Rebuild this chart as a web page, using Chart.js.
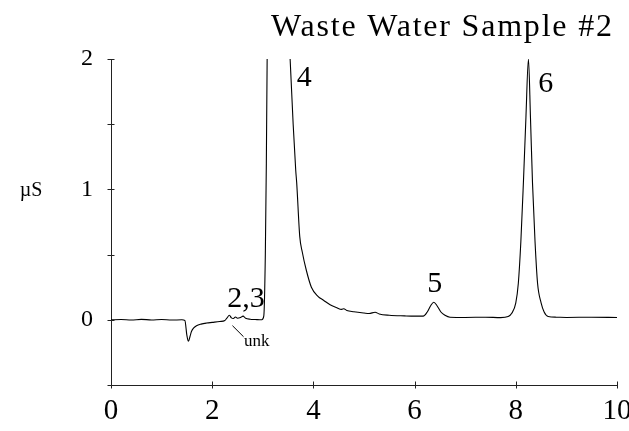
<!DOCTYPE html>
<html>
<head>
<meta charset="utf-8">
<script src="https://cdn.jsdelivr.net/npm/chart.js@4/dist/chart.umd.min.js"></script>
<style>
  html, body { margin: 0; padding: 0; background: #fff; }
  #wrap { width: 629px; height: 431px; position: relative; }
</style>
</head>
<body>
<div id="wrap"><canvas id="chart" width="629" height="431"></canvas></div>
<script>
// Retention time (min) and conductivity (µS) of the chromatogram trace
const times = [
  0.0, 0.2, 0.4, 0.6, 0.8, 1.0, 1.2, 1.4, 1.46, 1.50, 1.53, 1.56, 1.59, 1.64, 1.69,
  1.78, 1.89, 2.0, 2.15, 2.25, 2.29, 2.34, 2.38, 2.42, 2.46, 2.50, 2.56, 2.61, 2.66,
  2.75, 2.85, 2.98, 3.02, 3.05, 3.07, 3.09, 3.3, 3.52, 3.54, 3.60, 3.65, 3.67, 3.73,
  3.78, 3.86, 3.96, 4.09, 4.2, 4.33, 4.45, 4.56, 4.60, 4.66, 4.8, 5.0, 5.1, 5.22,
  5.3, 5.5, 5.8, 6.0, 6.17, 6.25, 6.32, 6.38, 6.44, 6.52, 6.6, 6.7, 7.0, 7.4, 7.7,
  7.85, 7.92, 8.0, 8.05, 8.10, 8.15, 8.20, 8.25, 8.29, 8.33, 8.38, 8.43, 8.5, 8.56,
  8.64, 8.8, 9.0, 9.5, 10.0
];
const conductivity = [
  0.0, 0.002, -0.002, 0.003, -0.001, 0.002, -0.002, 0.0, -0.005, -0.12, -0.165, -0.13, -0.09, -0.06, -0.045,
  -0.033, -0.025, -0.02, -0.013, -0.005, 0.013, 0.035, 0.015, 0.01, 0.022, 0.012, 0.018, 0.028, 0.012,
  0.004, 0.002, 0.0, 0.03, 0.5, 1.2, 2.2, 6.0, 2.2, 2.0, 1.5, 1.15, 1.05, 0.64,
  0.52, 0.38, 0.25, 0.18, 0.15, 0.115, 0.095, 0.08, 0.085, 0.072, 0.062, 0.052, 0.048, 0.058,
  0.045, 0.035, 0.03, 0.028, 0.028, 0.06, 0.11, 0.135, 0.11, 0.06, 0.035, 0.02, 0.018, 0.02, 0.017,
  0.025, 0.05, 0.13, 0.28, 0.6, 1.05, 1.55, 2.0, 1.55, 1.05, 0.6, 0.28, 0.13, 0.06,
  0.025, 0.02, 0.018, 0.02, 0.018
];

// Axis ticks
const xTickValues = [0, 2, 4, 6, 8, 10];
const yTickValues = [-0.5, 0, 0.5, 1, 1.5, 2];
const yTickLabels = ['', '0', '', '1', '', '2'];

// Peak annotations (text, time, level)
const peakNames  = ['2,3', '4', '5', '6'];
const peakTimes  = [2.67, 3.82, 6.40, 8.59];
const peakLevels = [0.10, 1.79, 0.215, 1.75];

const titleText = 'Waste Water Sample #2';
const unitText = 'µS';
const unkText = 'unk';

const SERIF = '"Liberation Serif", "Times New Roman", serif';

const points = times.map((t, i) => ({ x: t, y: conductivity[i] }));

const decorations = {
  id: 'decorations',
  afterDraw(chart) {
    const ctx = chart.ctx;
    const xs = chart.scales.x, ys = chart.scales.y;
    const area = chart.chartArea;
    ctx.save();
    ctx.strokeStyle = '#222';
    ctx.lineWidth = 1;
    // tick marks crossing the axes
    xTickValues.forEach(v => {
      const px = Math.round(xs.getPixelForValue(v)) + 0.5;
      ctx.beginPath();
      ctx.moveTo(px, area.bottom - 3.5);
      ctx.lineTo(px, area.bottom + 3.5);
      ctx.stroke();
    });
    yTickValues.forEach(v => {
      const py = Math.round(ys.getPixelForValue(v)) + 0.5;
      ctx.beginPath();
      ctx.moveTo(area.left - 3.5, py);
      ctx.lineTo(area.left + 3.5, py);
      ctx.stroke();
    });

    ctx.fillStyle = '#000';
    // title
    ctx.font = '32px ' + SERIF;
    ctx.textAlign = 'left';
    ctx.textBaseline = 'alphabetic';
    ctx.letterSpacing = '1.8px';
    ctx.fillText(titleText, 271, 36);
    ctx.letterSpacing = '0px';

    // unit label
    ctx.font = '20px ' + SERIF;
    ctx.textAlign = 'center';
    ctx.textBaseline = 'middle';
    ctx.fillText(unitText, 31, ys.getPixelForValue(1) + 1);

    // peak numbers
    ctx.font = '30px ' + SERIF;
    ctx.textAlign = 'center';
    ctx.textBaseline = 'alphabetic';
    peakNames.forEach((name, i) => {
      ctx.fillText(name, xs.getPixelForValue(peakTimes[i]), ys.getPixelForValue(peakLevels[i]));
    });

    // unknown peak with leader line
    ctx.strokeStyle = '#000';
    ctx.beginPath();
    ctx.moveTo(xs.getPixelForValue(2.40), ys.getPixelForValue(-0.045));
    ctx.lineTo(xs.getPixelForValue(2.62), ys.getPixelForValue(-0.13));
    ctx.stroke();
    ctx.font = '17px ' + SERIF;
    ctx.textAlign = 'left';
    ctx.textBaseline = 'middle';
    ctx.fillText(unkText, xs.getPixelForValue(2.63), ys.getPixelForValue(-0.17));
    ctx.restore();
  }
};

new Chart(document.getElementById('chart'), {
  type: 'line',
  data: {
    datasets: [{
      data: points,
      borderColor: '#000',
      borderWidth: 1.1,
      pointRadius: 0,
      fill: false,
      cubicInterpolationMode: 'monotone'
    }]
  },
  options: {
    responsive: false,
    animation: false,
    events: [],
    layout: { padding: { top: 59, right: 12, left: 0, bottom: 0 } },
    plugins: { legend: { display: false }, title: { display: false }, tooltip: { enabled: false } },
    scales: {
      x: {
        type: 'linear',
        min: 0, max: 10,
        grid: { display: false },
        border: { display: true, color: '#222', width: 1 },
        afterBuildTicks(scale) { scale.ticks = xTickValues.map(v => ({ value: v })); },
        ticks: {
          color: '#000',
          padding: 1,
          maxRotation: 0,
          font: { family: SERIF, size: 29 },
          callback: v => String(v)
        },
        afterFit(scale) { scale.height = 46; scale.paddingLeft = 0; scale.paddingRight = 0; }
      },
      y: {
        type: 'linear',
        min: -0.5, max: 2,
        grid: { display: false },
        border: { display: true, color: '#222', width: 1 },
        afterBuildTicks(scale) { scale.ticks = yTickValues.map(v => ({ value: v })); },
        ticks: {
          color: '#000',
          padding: 10,
          font: { family: SERIF, size: 24 },
          callback: (v) => yTickLabels[yTickValues.indexOf(v)] ?? ''
        },
        afterFit(scale) { scale.width = 111; scale.paddingTop = 0; scale.paddingBottom = 0; }
      }
    }
  },
  plugins: [decorations]
});
</script>
</body>
</html>
